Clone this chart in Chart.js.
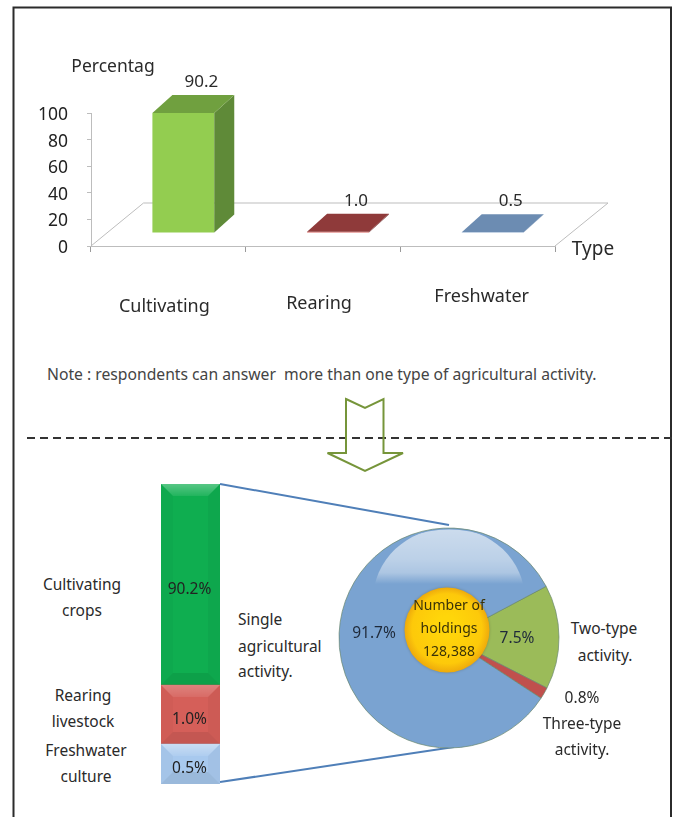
<!DOCTYPE html>
<html>
<head>
<meta charset="utf-8">
<script src="https://cdn.jsdelivr.net/npm/chart.js@4"></script>
<style>
html,body{margin:0;padding:0;background:#fff;}
#page{position:relative;width:673px;height:817px;overflow:hidden;background:#fff;font-family:"Noto Sans",sans-serif;color:#2a2a2a;}
canvas{position:absolute;display:block;}
svg{position:absolute;left:0;top:0;}
.t{position:absolute;white-space:pre;transform:translate(-50%,-50%);font-size:15.5px;line-height:1;}
.l{transform:translate(0,-50%);}
</style>
</head>
<body>
<div id="page">
<svg width="673" height="817">
  <path d="M13.5 817V7.5H671V817" fill="none" stroke="#2b2b2b" stroke-width="2"/>
  <line x1="27" y1="438" x2="673" y2="438" stroke="#333" stroke-width="2" stroke-dasharray="8 5"/>
  <path d="M346 399L365 408L383.5 399V453H403L365 471L327.5 453H346Z" fill="none" stroke="#76953a" stroke-width="2"/>
  <line x1="220" y1="484" x2="449" y2="525" stroke="#4f7fb8" stroke-width="2"/>
  <line x1="220" y1="782" x2="454" y2="747" stroke="#4f7fb8" stroke-width="2"/>
</svg>
<canvas id="top" width="673" height="340" style="left:0;top:0"></canvas>
<canvas id="stack" width="59" height="300" style="left:161px;top:484px"></canvas>
<canvas id="pie" width="238" height="236" style="left:330px;top:520px"></canvas>
<div class="t" style="left:113px;top:66px;font-size:17.5px">Percentag</div>
<div class="t" style="left:593px;top:248px;font-size:19px">Type</div>
<div class="t l" style="left:47px;top:375px;font-size:15.7px;color:#444">Note : respondents can answer  more than one type of agricultural activity.</div>
<div class="t" style="left:82px;top:585px">Cultivating</div>
<div class="t" style="left:82px;top:611px">crops</div>
<div class="t" style="left:83px;top:696px">Rearing</div>
<div class="t" style="left:83px;top:722px">livestock</div>
<div class="t" style="left:86px;top:751px">Freshwater</div>
<div class="t" style="left:86px;top:777px">culture</div>
<div class="t l" style="left:238px;top:620px">Single</div>
<div class="t l" style="left:238px;top:647px">agricultural</div>
<div class="t l" style="left:238px;top:672px">activity.</div>
<div class="t" style="left:604px;top:629px">Two-type</div>
<div class="t" style="left:605px;top:656px">activity.</div>
<div class="t" style="left:582px;top:698px">0.8%</div>
<div class="t" style="left:582px;top:724px">Three-type</div>
<div class="t" style="left:582px;top:750px">activity.</div>
</div>
<script>
// Top chart
const activityTypes = ['Cultivating', 'Rearing', 'Freshwater'];
const activityPercent = [90.2, 1.0, 0.5];
const yTicks = [0, 20, 40, 60, 80, 100];
// Lower-left column: share of the column height as drawn (schematic, not to value) and printed labels
const columnParts = ['Freshwater culture', 'Rearing livestock', 'Cultivating crops'];
const columnDrawnShare = [13.3, 19.7, 67];
const columnLabels = ['0.5%', '1.0%', '90.2%'];
// Pie: slice share as drawn in the picture and printed labels
const pieParts = ['Two-type activity', 'Three-type activity', 'Single agricultural activity'];
const pieDrawnShare = [15.3, 1.7, 83];
const pieLabels = ['7.5%', '0.8%', '91.7%'];
const hubLines = ['Number of', 'holdings', '128,388'];

Chart.defaults.animation = false;
Chart.defaults.font.family = '"Noto Sans", sans-serif';
Chart.defaults.plugins.legend.display = false;
Chart.defaults.plugins.tooltip.enabled = false;

const faceColors = {
  front: ['#93cd50', '#d9605c', '#8db0dc'],
  top: ['#70a03f', '#8f3a3a', '#6c8cb2'],
  side: ['#5f8a38', '#6e2b2b', '#55759a']
};
const shift = {x: 15, y: -13}, depth = {x: 20, y: -18};
const categoryNudge = [[-4, 61], [-4, 58], [4, 51]];

const threeD = {
  id: 'threeD',
  beforeDatasetsDraw(chart) {
    const {ctx, chartArea: a} = chart;
    ctx.save();
    ctx.strokeStyle = '#bdbdbd';
    ctx.lineWidth = 1;
    ctx.beginPath();
    ctx.moveTo(a.left, a.bottom);
    ctx.lineTo(a.left + 52.5, a.bottom - 43);
    ctx.lineTo(a.right + 53, a.bottom - 43);
    ctx.lineTo(a.right, a.bottom);
    ctx.stroke();
    ctx.restore();
    ctx.save();
    ctx.translate(shift.x, shift.y);
  },
  afterDatasetsDraw(chart) {
    const {ctx} = chart;
    ctx.restore();
    const meta = chart.getDatasetMeta(0);
    meta.data.forEach((el, i) => {
      const l = el.x - el.width / 2 + shift.x, r = el.x + el.width / 2 + shift.x;
      const t = el.y + shift.y, b = el.base + shift.y;
      ctx.fillStyle = faceColors.side[i];
      ctx.beginPath();
      ctx.moveTo(r, t); ctx.lineTo(r + depth.x, t + depth.y);
      ctx.lineTo(r + depth.x, b + depth.y); ctx.lineTo(r, b);
      ctx.closePath(); ctx.fill();
      ctx.fillStyle = faceColors.top[i];
      ctx.beginPath();
      ctx.moveTo(l, t); ctx.lineTo(l + depth.x, t + depth.y);
      ctx.lineTo(r + depth.x, t + depth.y); ctx.lineTo(r, t);
      ctx.closePath(); ctx.fill();
      ctx.fillStyle = '#2a2a2a';
      ctx.font = '17px "Noto Sans"';
      ctx.textAlign = 'center';
      ctx.textBaseline = 'middle';
      ctx.fillText(activityPercent[i].toFixed(1), el.x + shift.x + 18, el.y + shift.y + depth.y - 13);
      const sx = chart.scales.x;
      ctx.font = '18px "Noto Sans"';
      ctx.fillText(activityTypes[i], sx.getPixelForValue(i) + categoryNudge[i][0], chart.chartArea.bottom + categoryNudge[i][1]);
    });
  }
};

new Chart(document.getElementById('top'), {
  type: 'bar',
  data: {labels: activityTypes, datasets: [{data: activityPercent, backgroundColor: faceColors.front, borderWidth: 0}]},
  options: {
    responsive: false,
    layout: {padding: {left: 31, right: 118, top: 113, bottom: 88}},
    datasets: {bar: {categoryPercentage: 1, barPercentage: 0.4}},
    scales: {
      x: {
        afterFit(s) { s.height = 6; s.paddingLeft = 0; s.paddingRight = 0; },
        border: {color: '#bdbdbd'},
        grid: {drawOnChartArea: false, color: '#9a9a9a', tickLength: 6},
        ticks: {display: false}
      },
      y: {
        min: 0, max: 100,
        afterBuildTicks(s) { s.ticks = yTicks.map(v => ({value: v})); },
        afterFit(s) { s.width = 60; s.paddingTop = 0; s.paddingBottom = 0; },
        border: {color: '#bdbdbd'},
        grid: {drawOnChartArea: false, color: '#bdbdbd', tickLength: 4},
        ticks: {color: '#222', font: {size: 17.5}, padding: 19, labelOffset: 2}
      }
    }
  },
  plugins: [threeD]
});

const columnColors = ['#a8c9ee', '#d55f59', '#0fae50'];
const bevelTop = ['rgba(255,255,255,.38)', 'rgba(255,255,255,.22)', 'rgba(255,255,255,.3)'];
const bevel = {
  id: 'bevel',
  afterDatasetsDraw(chart) {
    const {ctx} = chart;
    const inset = 12;
    chart.data.datasets.forEach((ds, i) => {
      const el = chart.getDatasetMeta(i).data[0];
      const l = el.x - el.width / 2, r = el.x + el.width / 2, t = el.y, b = el.base;
      const poly = (pts, c) => {
        ctx.fillStyle = c; ctx.beginPath();
        pts.forEach((p, k) => k ? ctx.lineTo(p[0], p[1]) : ctx.moveTo(p[0], p[1]));
        ctx.closePath(); ctx.fill();
      };
      poly([[l, t], [l + inset, t + inset], [l + inset, b - inset], [l, b]], 'rgba(0,0,0,.025)');
      poly([[r, t], [r - inset, t + inset], [r - inset, b - inset], [r, b]], 'rgba(0,0,0,.035)');
      poly([[l, b], [l + inset, b - inset], [r - inset, b - inset], [r, b]], 'rgba(0,0,0,.08)');
      const g = ctx.createLinearGradient(0, t, 0, t + inset);
      g.addColorStop(0, bevelTop[i]);
      g.addColorStop(1, bevelTop[i].replace(/[\d.]+\)$/, '.08)'));
      poly([[l, t], [r, t], [r - inset, t + inset], [l + inset, t + inset]], g);
      ctx.fillStyle = '#222';
      ctx.font = '15.5px "Noto Sans"';
      ctx.textAlign = 'center'; ctx.textBaseline = 'middle';
      ctx.fillText(columnLabels[i], el.x - 1, (t + b) / 2 + 5);
    });
  }
};
new Chart(document.getElementById('stack'), {
  type: 'bar',
  data: {
    labels: ['Single'],
    datasets: columnParts.map((p, i) => ({label: p, data: [columnDrawnShare[i]], backgroundColor: columnColors[i], borderWidth: 0}))
  },
  options: {
    responsive: false,
    layout: {padding: 0},
    datasets: {bar: {categoryPercentage: 1, barPercentage: 1}},
    scales: {x: {stacked: true, display: false}, y: {stacked: true, display: false, min: 0, max: 100}}
  },
  plugins: [bevel]
});

const pieExtras = {
  id: 'pieExtras',
  afterDatasetsDraw(chart) {
    const {ctx} = chart;
    const arc0 = chart.getDatasetMeta(0).data[0];
    const cx = arc0.x, cy = arc0.y, R = arc0.outerRadius;
    // gloss
    ctx.save();
    ctx.beginPath();
    ctx.arc(cx, cy, R - 1.5, 0, Math.PI * 2);
    ctx.clip();
    ctx.beginPath();
    ctx.ellipse(cx, cy - 38, 76, 72, 0, 0, Math.PI * 2);
    ctx.clip();
    const g = ctx.createLinearGradient(0, cy - 110, 0, cy - 54);
    g.addColorStop(0, 'rgba(255,255,255,.62)');
    g.addColorStop(.55, 'rgba(255,255,255,.5)');
    g.addColorStop(.8, 'rgba(255,255,255,.38)');
    g.addColorStop(1, 'rgba(255,255,255,0)');
    ctx.fillStyle = g;
    ctx.fillRect(cx - 80, cy - 110, 160, 56);
    ctx.restore();
    // hub
    const hx = cx - 2, hy = cy - 8, hr = 42.5;
    const h = ctx.createRadialGradient(hx, hy - 6, 8, hx, hy, hr);
    h.addColorStop(0, '#ffd60a');
    h.addColorStop(.78, '#fdc90a');
    h.addColorStop(1, '#eeaa0c');
    ctx.save();
    ctx.shadowColor = 'rgba(70,70,40,.35)';
    ctx.shadowBlur = 3;
    ctx.fillStyle = h;
    ctx.beginPath();
    ctx.arc(hx, hy, hr, 0, Math.PI * 2);
    ctx.fill();
    ctx.restore();
    ctx.fillStyle = '#3a3208';
    ctx.font = '14px "Noto Sans"';
    ctx.textAlign = 'center'; ctx.textBaseline = 'middle';
    hubLines.forEach((s, i) => ctx.fillText(s, cx, cy - 32 + i * 23));
    // slice labels
    ctx.fillStyle = '#1f2a3a';
    ctx.font = '15.5px "Noto Sans"';
    ctx.fillText(pieLabels[2], cx - 75, cy - 4);
    ctx.fillText(pieLabels[0], cx + 68, cy + 1);
  }
};
new Chart(document.getElementById('pie'), {
  type: 'pie',
  data: {
    labels: pieParts,
    datasets: [{
      data: pieDrawnShare,
      backgroundColor: ['#9bbb59', '#c0504d', '#7aa3d1'],
      borderColor: 'rgba(105,135,110,.7)',
      borderWidth: 1
    }]
  },
  options: {responsive: false, layout: {padding: 0}, rotation: 62, radius: 110},
  plugins: [pieExtras]
});
</script>
</body>
</html>
